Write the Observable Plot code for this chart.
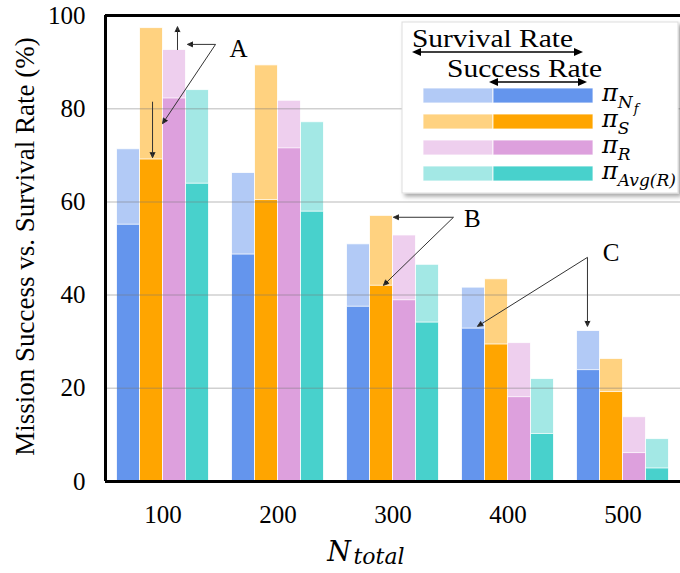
<!DOCTYPE html>
<html><head><meta charset="utf-8">
<script src="https://cdn.jsdelivr.net/npm/d3@7"></script>
<script src="https://cdn.jsdelivr.net/npm/@observablehq/plot@0.6"></script>
<style>body{margin:0;background:#fff} #chart svg{display:block}</style>
</head><body><div id="chart"></div>
<script>
// ---- data ----
const groups = [100, 200, 300, 400, 500];
const seriesNames = ["πNf", "πS", "πR", "πAvg(R)"];
const seriesColors = ["#6495ED", "#FFA500", "#DDA0DD", "#48D1CC"];
const seriesLight = ["#B2CAF6", "#FFD280", "#EECFEE", "#A3E8E5"];
const survivalNf  = [71.3, 66.2, 50.9, 41.6, 32.3];
const successNf   = [55.1, 48.7, 37.5, 32.8, 23.9];
const survivalS   = [97.3, 89.3, 57.0, 43.4, 26.3];
const successS    = [69.1, 60.4, 42.0, 29.4, 19.2];
const survivalR   = [92.6, 81.7, 52.8, 29.7, 13.8];
const successR    = [82.2, 71.5, 38.9, 18.1, 6.1];
const survivalAvg = [84.0, 77.1, 46.5, 22.0, 9.1];
const successAvg  = [63.9, 57.9, 34.1, 10.2, 2.8];
const yTicks = [0, 20, 40, 60, 80, 100];
const gridTicks = [20, 40, 60, 80];
const yTitle = "Mission Success vs. Survival Rate (%)";
// annotations (data units)
const annotLabels = ["A", "B", "C"];
const annotLabelX = [165.7, 369.1, 489.6];
const annotLabelY = [92.9, 56.4, 49.0];
const arrowX1 = [145.7, 145.7, 112.6, 90.9, 352.6, 352.6, 469.1, 469.1];
const arrowY1 = [93.8, 93.8, 92.6, 81.5, 56.7, 56.7, 48.1, 48.1];
const arrowX2 = [121.3, 99.6, 112.6, 90.9, 300.4, 291.7, 373.5, 469.1];
const arrowY2 = [93.8, 76.8, 97.6, 69.5, 56.7, 42.1, 33.3, 33.3];

const survival = [survivalNf, survivalS, survivalR, survivalAvg];
const success = [successNf, successS, successR, successAvg];
const rows = groups.flatMap((n, g) => seriesNames.map((name, s) => ({
  n, s, name, survival: survival[s][g], success: success[s][g]
})));
const arrows = arrowX1.map((_, i) => ({x1: arrowX1[i], y1: arrowY1[i], x2: arrowX2[i], y2: arrowY2[i]}));
const labels = annotLabels.map((t, i) => ({t, x: annotLabelX[i], y: annotLabelY[i]}));

const bx1 = d => d.n - 40 + 20 * d.s;
const bx2 = d => d.n - 20 + 20 * d.s;
const serif = "'Liberation Serif', 'Times New Roman', serif";

const chart = Plot.plot({
  width: 680, height: 573,
  marginLeft: 105, marginRight: 0, marginTop: 15, marginBottom: 92,
  style: `font-family: ${serif}; font-size: 25px; background: white; color: black;`,
  x: {type: "linear", domain: [50, 550], ticks: groups, tickFormat: d => String(d), tickSize: 0, tickPadding: 24, label: null},
  y: {domain: [0, 100], ticks: yTicks, tickSize: 0, tickPadding: 20, label: null},
  color: {type: "identity"},
  marks: [
    Plot.rectY(rows, {x1: bx1, x2: bx2, y1: 0, y2: "survival", fill: d => seriesLight[d.s], stroke: "white", strokeWidth: 1, strokeOpacity: 0.8}),
    Plot.rectY(rows, {x1: bx1, x2: bx2, y1: 0, y2: "success", fill: d => seriesColors[d.s], stroke: "white", strokeWidth: 1, strokeOpacity: 0.8}),
    Plot.ruleY(gridTicks, {stroke: "#777", strokeOpacity: 0.35, strokeWidth: 1.5}),
    Plot.ruleX([50], {y1: 0, y2: 100, stroke: "black", strokeWidth: 3}),
    Plot.ruleY([0, 100], {stroke: "black", strokeWidth: 3}),
    Plot.arrow(arrows, {x1: "x1", y1: "y1", x2: "x2", y2: "y2", stroke: "#333", strokeWidth: 1, fill: "#111", headLength: 9, headAngle: 50, strokeLinecap: "butt"}),
    Plot.text(labels, {x: "x", y: "y", text: "t", fontSize: 25, fontFamily: serif, lineAnchor: "middle", fill: "black"}),
    Plot.text([yTitle], {frameAnchor: "left", dx: -80, dy: -2, rotate: -90, fontSize: 27, fontFamily: serif, textAnchor: "middle", lineAnchor: "middle", fill: "black"}),
    Plot.text(["N"], {frameAnchor: "bottom", dx: -54, dy: 79, fontSize: 27, fontStyle: "italic", fontFamily: "'DejaVu Serif', serif", lineAnchor: "bottom", textAnchor: "middle"}),
    Plot.text(["total"], {frameAnchor: "bottom", dx: -14, dy: 82, fontSize: 22, fontStyle: "italic", fontFamily: "'DejaVu Serif', serif", lineAnchor: "bottom", textAnchor: "middle"})
  ]
});
document.getElementById("chart").appendChild(chart);

// ---- legend ----
const svg = d3.select(chart);
const defs = svg.append("defs");
defs.append("filter").attr("id", "lgshadow").attr("x", "-10%").attr("y", "-10%").attr("width", "130%").attr("height", "130%")
  .append("feDropShadow").attr("dx", 3).attr("dy", 3).attr("stdDeviation", 2).attr("flood-color", "#000").attr("flood-opacity", 0.35);
const lg = svg.append("g").attr("text-anchor", "start").style("text-anchor", "start");
lg.append("rect").attr("x", 402).attr("y", 22).attr("width", 276).attr("height", 171)
  .attr("fill", "white").attr("stroke", "#ddd").attr("filter", "url(#lgshadow)");
lg.append("text").attr("x", 412).attr("y", 47).attr("font-family", serif).attr("font-size", 26)
  .attr("textLength", 161).attr("lengthAdjust", "spacingAndGlyphs").text("Survival Rate");
lg.append("text").attr("x", 447).attr("y", 77).attr("font-family", serif).attr("font-size", 26)
  .attr("textLength", 155).attr("lengthAdjust", "spacingAndGlyphs").text("Success Rate");
function dblArrow(x1, x2, y) {
  lg.append("line").attr("x1", x1 + 4).attr("x2", x2 - 4).attr("y1", y).attr("y2", y).attr("stroke", "black").attr("stroke-width", 1.5);
  lg.append("polygon").attr("points", `${x1},${y} ${x1 + 9},${y - 4} ${x1 + 9},${y + 4}`).attr("fill", "black");
  lg.append("polygon").attr("points", `${x2},${y} ${x2 - 9},${y - 4} ${x2 - 9},${y + 4}`).attr("fill", "black");
}
dblArrow(412, 583, 52);
dblArrow(489, 587, 82);
const legendSubs = [["N", "f"], ["S"], ["R"], ["Avg(R)"]];
seriesNames.forEach((name, i) => {
  const cy = 95.5 + i * 26;
  lg.append("rect").attr("x", 423).attr("y", cy - 7.5).attr("width", 70).attr("height", 15).attr("fill", seriesLight[i]).attr("stroke", "white").attr("stroke-opacity", 0.8);
  lg.append("rect").attr("x", 493).attr("y", cy - 7.5).attr("width", 100).attr("height", 15).attr("fill", seriesColors[i]).attr("stroke", "white").attr("stroke-opacity", 0.8);
  const t = lg.append("text").attr("x", 602).attr("y", cy + 5.5).attr("font-family", "'DejaVu Serif', serif").attr("font-style", "italic");
  t.append("tspan").attr("font-size", 24).text("π");
  const sub = legendSubs[i];
  t.append("tspan").attr("font-size", 17).attr("dy", 7).text(sub[0]);
  if (sub[1]) t.append("tspan").attr("font-size", 13).attr("dy", 5).attr("dx", 1).text(sub[1]);
});
</script>
</body></html>
